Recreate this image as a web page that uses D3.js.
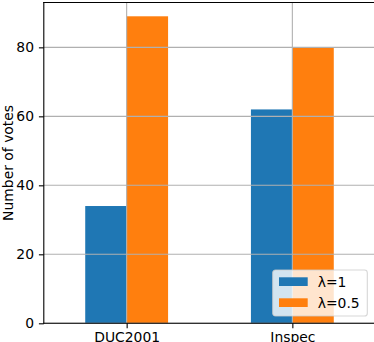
<!DOCTYPE html>
<html>
<head>
<meta charset="utf-8">
<script src="https://cdn.jsdelivr.net/npm/d3@7"></script>
<style>
  body { margin: 0; background: #fff; }
  text { font-family: "DejaVu Sans", sans-serif; }
</style>
</head>
<body>
<div id="caja"></div>
<script>
// datos del grafico
var categorias = ["DUC2001", "Inspec"];
var series = ["λ=1", "λ=0.5"];
var valoresL1 = [34, 62];
var valoresL05 = [89, 80];
var ticksY = [0, 20, 40, 60, 80];
var colores = ["#1f77b4", "#ff7f0e"];

var w = 374, h = 342;
var izq = 43.8, der = 375.2, arriba = 2.5, abajo = 323.3;

var svg = d3.select('#caja')
  .append('svg')
  .attr('width', w)
  .attr('height', h);

var x0 = d3.scaleBand()
  .domain(categorias)
  .range([izq, der])
  .paddingInner(0.5)
  .paddingOuter(0.25);

var x1 = d3.scaleBand()
  .domain(series)
  .range([0, x0.bandwidth()]);

var y = d3.scaleLinear()
  .domain([0, 93])
  .range([abajo, arriba]);

var filas = categorias.map(function(c, i) {
  return {cat: c, vals: [valoresL1[i], valoresL05[i]]};
});

// barras
var grupos = svg.append("g").selectAll("g")
  .data(filas)
  .enter().append("g")
  .attr("transform", function(d) { return "translate(" + x0(d.cat) + ",0)"; });

grupos.selectAll("rect")
  .data(function(d) { return d.vals.map(function(v, j) { return {s: series[j], v: v, j: j}; }); })
  .enter().append("rect")
  .attr("x", function(d) { return x1(d.s); })
  .attr("width", x1.bandwidth())
  .attr("y", function(d) { return y(d.v); })
  .attr("height", function(d) { return y(0) - y(d.v); })
  .attr("fill", function(d) { return colores[d.j]; });

// grilla encima de las barras
var grilla = svg.append("g");
grilla.selectAll("line.h")
  .data(ticksY)
  .enter().append("line")
  .attr("x1", izq).attr("x2", der)
  .attr("y1", function(d) { return y(d); })
  .attr("y2", function(d) { return y(d); })
  .attr("stroke", "#b0b0b0")
  .attr("stroke-width", 1.1);
grilla.selectAll("line.v")
  .data(categorias)
  .enter().append("line")
  .attr("x1", function(d) { return x0(d) + x0.bandwidth() / 2; })
  .attr("x2", function(d) { return x0(d) + x0.bandwidth() / 2; })
  .attr("y1", arriba).attr("y2", abajo)
  .attr("stroke", "#b0b0b0")
  .attr("stroke-width", 1.1);

// ejes
var ejeY = svg.append("g")
  .attr("transform", "translate(" + izq + ",0)")
  .call(d3.axisLeft(y).tickValues(ticksY).tickSize(4.9).tickPadding(4.9).tickSizeOuter(0));
ejeY.selectAll("text").attr("font-size", "13.9px").attr("fill", "#000").style("font-family", "DejaVu Sans");
ejeY.selectAll("line").attr("stroke", "#000").attr("stroke-width", 1.1);
ejeY.select(".domain").remove();

var xCentro = d3.scalePoint().domain(categorias)
  .range([x0(categorias[0]) + x0.bandwidth() / 2, x0(categorias[1]) + x0.bandwidth() / 2]);
var ejeX = svg.append("g")
  .attr("transform", "translate(0," + abajo + ")")
  .call(d3.axisBottom(xCentro).tickSize(4.9).tickPadding(3.9).tickSizeOuter(0));
ejeX.selectAll("text").attr("font-size", "13.9px").attr("fill", "#000").style("font-family", "DejaVu Sans");
ejeX.selectAll("line").attr("stroke", "#000").attr("stroke-width", 1.1);
ejeX.select(".domain").remove();

// marco (spines)
svg.append("line").attr("x1", izq).attr("x2", izq).attr("y1", arriba).attr("y2", abajo)
  .attr("stroke", "#000").attr("stroke-width", 1.1).attr("stroke-linecap", "square");
svg.append("line").attr("x1", izq).attr("x2", der).attr("y1", abajo).attr("y2", abajo)
  .attr("stroke", "#000").attr("stroke-width", 1.1).attr("stroke-linecap", "square");
svg.append("line").attr("x1", izq).attr("x2", der).attr("y1", arriba).attr("y2", arriba)
  .attr("stroke", "#000").attr("stroke-width", 1.1).attr("stroke-linecap", "square");

// titulo eje y
svg.append("text")
  .text("Number of votes")
  .attr("transform", "translate(12.5," + ((arriba + abajo) / 2) + ") rotate(-90)")
  .attr("text-anchor", "middle")
  .attr("font-size", "13.9px")
  .attr("fill", "#000");

// leyenda
var ley = svg.append("g").attr("transform", "translate(272.7,270)");
ley.append("rect")
  .attr("width", 94.6).attr("height", 46)
  .attr("rx", 2.8).attr("ry", 2.8)
  .attr("fill", "#fff").attr("fill-opacity", 0.8)
  .attr("stroke", "#cccccc").attr("stroke-opacity", 0.8).attr("stroke-width", 1.1);
ley.selectAll("rect.item")
  .data(series)
  .enter().append("rect")
  .attr("x", 6.3)
  .attr("y", function(d, i) { return 7.3 + i * 21; })
  .attr("width", 28.7).attr("height", 8.7)
  .attr("fill", function(d, i) { return colores[i]; });
ley.selectAll("text")
  .data(series)
  .enter().append("text")
  .text(function(d) { return d; })
  .attr("x", 45)
  .attr("y", function(d, i) { return 16.6 + i * 21; })
  .attr("font-size", "13.9px")
  .attr("fill", "#000");
</script>
</body>
</html>
